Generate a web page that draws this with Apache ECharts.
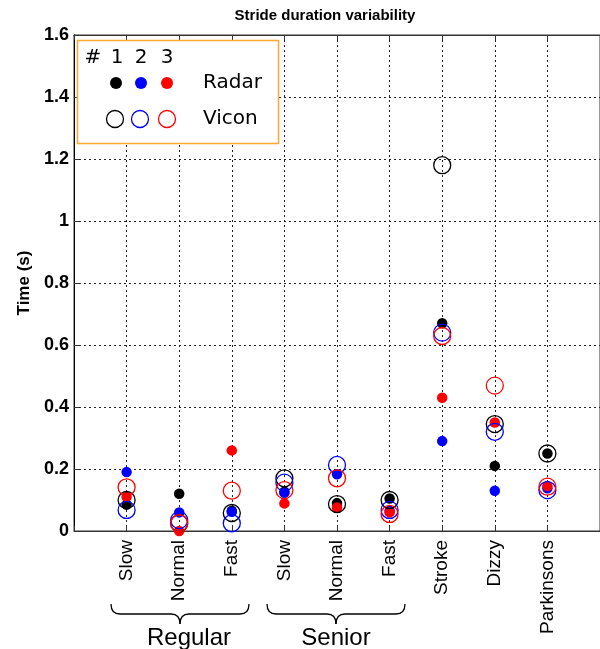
<!DOCTYPE html>
<html>
<head>
<meta charset="utf-8">
<script src="https://cdn.jsdelivr.net/npm/echarts@6/dist/echarts.min.js"></script>
<style>html,body{margin:0;padding:0;background:#fff}#c{width:600px;height:649px}</style>
</head>
<body>
<div id="c"></div>
<script>
// ---- data ----
var categories = ['Slow','Normal','Fast','Slow','Normal','Fast','Stroke','Dizzy','Parkinsons'];
var groupLabels = ['Regular','Senior'];
var radar1 = [0.085, 0.12, 0.065, 0.127, 0.09, 0.105, 0.67, 0.21, 0.25];
var radar2 = [0.19, 0.06, 0.062, 0.123, 0.183, 0.065, 0.29, 0.13, 0.138];
var radar3 = [0.11, 0.0, 0.26, 0.089, 0.076, 0.06, 0.43, 0.35, 0.145];
var vicon1 = [0.10, 0.025, 0.058, 0.17, 0.087, 0.10, 1.18, 0.345, 0.25];
var vicon2 = [0.068, 0.035, 0.025, 0.156, 0.213, 0.068, 0.64, 0.32, 0.132];
var vicon3 = [0.141, 0.025, 0.13, 0.132, 0.17, 0.055, 0.629, 0.469, 0.143];
var yTicks = [0, 0.2, 0.4, 0.6, 0.8, 1, 1.2, 1.4, 1.6];

var chart = echarts.init(document.getElementById('c'), null, {renderer:'canvas'});
function pts(arr){ return arr.map(function(v,i){ return [i+1, v]; }); }
function filled(name, arr, col){
  return {type:'scatter', name:name, data:pts(arr), symbol:'circle', symbolSize:10.5,
    itemStyle:{color:col, opacity:1}, z:3, silent:true};
}
function open(name, arr, col){
  return {type:'scatter', name:name, data:pts(arr), symbol:'circle', symbolSize:17,
    itemStyle:{color:'rgba(0,0,0,0)', borderColor:col, borderWidth:1.3, opacity:1}, z:4, silent:true};
}
var gridLine = {show:true, lineStyle:{color:'#222', type:[2,3], width:1}};
var axisCol = '#333';

// braces
function brace(x1, x2, y0, yh, yt, r){
  var xm = (x1+x2)/2, st = {stroke:'#000', lineWidth:1.3, fill:null};
  return [
    {type:'bezierCurve', shape:{x1:x1,y1:y0,cpx1:x1,cpy1:yh,x2:x1+r,y2:yh}, style:st, z:100},
    {type:'line', shape:{x1:x1+r,y1:yh,x2:xm-r,y2:yh}, style:st, z:100},
    {type:'bezierCurve', shape:{x1:xm-r,y1:yh,cpx1:xm,cpy1:yh,x2:xm,y2:yt}, style:st, z:100},
    {type:'bezierCurve', shape:{x1:xm,y1:yt,cpx1:xm,cpy1:yh,x2:xm+r,y2:yh}, style:st, z:100},
    {type:'line', shape:{x1:xm+r,y1:yh,x2:x2-r,y2:yh}, style:st, z:100},
    {type:'bezierCurve', shape:{x1:x2-r,y1:yh,cpx1:x2,cpy1:yh,x2:x2,y2:y0}, style:st, z:100}
  ];
}
var lgFont = '20px "DejaVu Sans"';
var graphics = [
  {type:'text', x:325, y:16, style:{text:'Stride duration variability', font:'bold 15px "Liberation Sans"', fill:'#000', textAlign:'center', textVerticalAlign:'middle'}, z:100},
  {type:'rect', shape:{x:77.5, y:40.5, width:201, height:103}, style:{fill:'#fff', stroke:'#FFA832', lineWidth:1.5}, z:100},
  {type:'text', x:93, y:58, style:{text:'#', font:lgFont, fill:'#000', textAlign:'center', textVerticalAlign:'middle'}, z:101},
  {type:'text', x:117, y:58, style:{text:'1', font:lgFont, fill:'#000', textAlign:'center', textVerticalAlign:'middle'}, z:101},
  {type:'text', x:141, y:58, style:{text:'2', font:lgFont, fill:'#000', textAlign:'center', textVerticalAlign:'middle'}, z:101},
  {type:'text', x:167, y:58, style:{text:'3', font:lgFont, fill:'#000', textAlign:'center', textVerticalAlign:'middle'}, z:101},
  {type:'circle', shape:{cx:116, cy:83, r:6}, style:{fill:'#000'}, z:101},
  {type:'circle', shape:{cx:141, cy:83, r:6}, style:{fill:'#0000ff'}, z:101},
  {type:'circle', shape:{cx:167, cy:83, r:6}, style:{fill:'#ff0000'}, z:101},
  {type:'text', x:203, y:83, style:{text:'Radar', font:lgFont, fill:'#000', textAlign:'left', textVerticalAlign:'middle'}, z:101},
  {type:'circle', shape:{cx:115, cy:119, r:8.5}, style:{fill:null, stroke:'#000', lineWidth:1.3}, z:101},
  {type:'circle', shape:{cx:140, cy:119, r:8.5}, style:{fill:null, stroke:'#0000ff', lineWidth:1.3}, z:101},
  {type:'circle', shape:{cx:167, cy:119, r:8.5}, style:{fill:null, stroke:'#ff0000', lineWidth:1.3}, z:101},
  {type:'text', x:203, y:119, style:{text:'Vicon', font:lgFont, fill:'#000', textAlign:'left', textVerticalAlign:'middle'}, z:101},
  {type:'text', x:189, y:638, style:{text:groupLabels[0], font:'24px "Liberation Sans"', fill:'#000', textAlign:'center', textVerticalAlign:'middle'}, z:100},
  {type:'text', x:336, y:638, style:{text:groupLabels[1], font:'24px "Liberation Sans"', fill:'#000', textAlign:'center', textVerticalAlign:'middle'}, z:100}
].concat(brace(111, 249, 604, 614, 624, 9)).concat(brace(267, 405, 604, 614, 624, 9));

chart.setOption({
  animation:false,
  backgroundColor:'#fff',
  grid:{left:74, top:35, width:527, height:496, show:true, borderColor:axisCol, borderWidth:1, backgroundColor:'rgba(0,0,0,0)'},
  xAxis:[{
    type:'value', min:0, max:10, interval:1,
    axisLine:{show:true, onZero:false, lineStyle:{color:axisCol, width:1}},
    axisTick:{show:true, inside:true, length:5, lineStyle:{color:axisCol}},
    axisLabel:{show:true, rotate:90, margin:9, fontSize:19, fontFamily:'Liberation Sans', color:'#000',
      formatter:function(v){ return categories[Math.round(v)-1] || ''; }},
    splitLine:gridLine
  },{
    type:'value', position:'top', min:0, max:10, interval:1,
    axisLine:{show:true, onZero:false, lineStyle:{color:axisCol, width:1}},
    axisTick:{show:true, inside:true, length:5, lineStyle:{color:axisCol}},
    axisLabel:{show:false}, splitLine:{show:false}
  }],
  yAxis:{
    type:'value', min:0, max:1.6, interval:0.2,
    name:'Time (s)', nameLocation:'middle', nameGap:37, nameRotate:90,
    nameTextStyle:{fontSize:17, fontWeight:'bold', fontFamily:'Liberation Sans', color:'#000'},
    axisLine:{show:true, onZero:false, lineStyle:{color:'#000', width:1}},
    axisTick:{show:true, inside:true, length:5, lineStyle:{color:axisCol}},
    axisLabel:{fontSize:18, fontWeight:'bold', fontFamily:'Liberation Sans', color:'#000', margin:5,
      formatter:function(v){ var t = yTicks.reduce(function(a,b){ return Math.abs(b-v)<Math.abs(a-v)?b:a; }); return String(t); }},
    splitLine:gridLine
  },
  series:[
    filled('Radar 1', radar1, '#000000'),
    filled('Radar 2', radar2, '#0000ff'),
    filled('Radar 3', radar3, '#ff0000'),
    open('Vicon 1', vicon1, '#000000'),
    open('Vicon 2', vicon2, '#0000ff'),
    open('Vicon 3', vicon3, '#ff0000')
  ],
  graphic:graphics
});
</script>
</body>
</html>
